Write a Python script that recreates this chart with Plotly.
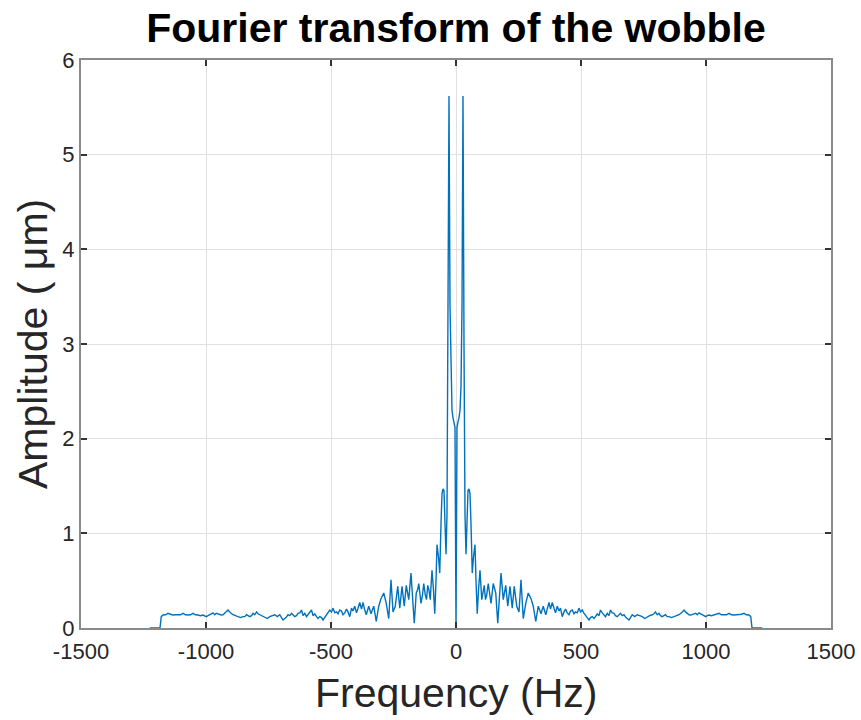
import plotly.graph_objects as go

# Positive-frequency half of the (symmetric) amplitude spectrum
freq_pos = [0, 4, 8, 12, 16, 20, 24, 28, 32, 36, 40, 44, 48, 52, 56, 60, 65, 70, 76, 80,
            85, 90, 96, 103, 108, 113, 118, 123, 129, 134, 140, 149, 154, 159, 167, 174,
            180, 189, 194, 199, 207, 216, 225, 233, 243, 252, 260, 269, 279, 289, 300,
            309, 319, 329, 340, 349, 359, 366, 372, 378, 385, 393, 398, 405, 412, 418,
            425, 432, 438, 445, 452, 458, 465, 472, 478, 485, 492, 498, 505, 511, 518,
            525, 532, 538, 545, 552, 558, 565, 572, 578, 585, 592, 598, 605, 612, 618,
            625, 632, 638, 645, 652, 658, 665, 672, 680, 692, 698, 705, 715, 725, 735,
            745, 755, 765, 775, 785, 792, 798, 805, 812, 818, 825, 832, 838, 845, 852,
            862, 872, 882, 892, 902, 912, 918, 925, 932, 939, 946, 952, 959, 965, 972,
            979, 985, 992, 999, 1005, 1012, 1022, 1032, 1042, 1052, 1062, 1072, 1082,
            1092, 1102, 1112, 1122, 1132, 1142, 1152, 1162, 1172, 1179, 1184, 1225]
amp_pos = [0.0, 2.12, 2.18, 2.22, 2.3, 2.55, 3.4, 5.62, 3.0, 1.2, 0.78, 1.1, 1.45, 1.47,
           1.42, 1.1, 0.58, 0.75, 0.88, 0.5, 0.15, 0.4, 0.61, 0.3, 0.4, 0.45, 0.3, 0.35,
           0.47, 0.35, 0.26, 0.47, 0.4, 0.37, 0.05, 0.35, 0.58, 0.3, 0.38, 0.45, 0.23,
           0.44, 0.21, 0.44, 0.23, 0.17, 0.51, 0.1, 0.26, 0.37, 0.31, 0.23, 0.07, 0.23,
           0.15, 0.23, 0.14, 0.2, 0.27, 0.2, 0.27, 0.2, 0.16, 0.23, 0.18, 0.21, 0.12,
           0.17, 0.2, 0.16, 0.14, 0.18, 0.19, 0.15, 0.17, 0.16, 0.21, 0.17, 0.19, 0.16,
           0.14, 0.11, 0.085, 0.11, 0.12, 0.1, 0.12, 0.15, 0.13, 0.19, 0.16, 0.14, 0.12,
           0.155, 0.13, 0.19, 0.16, 0.155, 0.13, 0.12, 0.14, 0.155, 0.13, 0.14, 0.11,
           0.085, 0.11, 0.14, 0.12, 0.14, 0.13, 0.12, 0.1, 0.12, 0.13, 0.14, 0.15, 0.17,
           0.14, 0.155, 0.13, 0.12, 0.13, 0.14, 0.12, 0.12, 0.11, 0.12, 0.13, 0.14, 0.16,
           0.19, 0.17, 0.155, 0.14, 0.137, 0.14, 0.15, 0.155, 0.14, 0.16, 0.15, 0.137,
           0.13, 0.12, 0.13, 0.137, 0.13, 0.137, 0.14, 0.155, 0.14, 0.137, 0.14, 0.155,
           0.14, 0.137, 0.14, 0.137, 0.145, 0.155, 0.14, 0.137, 0.12, 0.0, 0.0]

# The magnitude spectrum of a real signal is symmetric about 0 Hz
freq = [-f for f in reversed(freq_pos[1:])] + freq_pos
amp = list(reversed(amp_pos[1:])) + amp_pos

x_ticks = [-1500, -1000, -500, 0, 500, 1000, 1500]
y_ticks = [0, 1, 2, 3, 4, 5, 6]

title_text = "Fourier transform of the wobble"
x_label = "Frequency (Hz)"
y_label = "Amplitude ( μm)"

FONT = "Liberation Sans, Arial, sans-serif"
W, H = 861, 720
# plot box in page pixels: x 81..831, y 60..628
L, T = 81, 60
R = W - 831
B = H - 628
PW, PH = W - L - R, H - T - B

fig = go.Figure()
fig.add_trace(go.Scatter(x=freq, y=amp, mode="lines",
                         line=dict(color="#0072BD", width=1.4),
                         hoverinfo="skip", showlegend=False))

axis_common = dict(showline=True, linecolor="#8a8a8a", linewidth=2, mirror="ticks",
                   ticks="inside", ticklen=6, tickwidth=1.5, tickcolor="#333333",
                   showgrid=True, gridcolor="#e0e0e0", gridwidth=1, zeroline=False,
                   automargin=False, ticklabeloverflow="allow",
                   tickfont=dict(family=FONT, size=22, color="#262626"))

fig.update_xaxes(range=[-1500, 1500], tickvals=x_ticks, ticktext=[str(v) for v in x_ticks],
                 ticklabelstandoff=3, **axis_common)
fig.update_yaxes(range=[0, 6], tickvals=y_ticks, ticktext=[str(v) for v in y_ticks],
                 **axis_common)

fig.update_layout(
    width=W, height=H,
    margin=dict(l=L, r=R, t=T, b=B, pad=0, autoexpand=False),
    paper_bgcolor="white", plot_bgcolor="white",
    title=dict(text="<b>" + title_text + "</b>", x=(L + PW / 2) / W, xanchor="center",
               y=1 - 28 / H, yanchor="middle", yref="container",
               font=dict(family=FONT, size=41, color="black")),
    annotations=[
        dict(text=x_label, xref="paper", yref="paper", x=0.5,
             y=-(693 - (H - B)) / PH,
             xanchor="center", yanchor="middle", showarrow=False,
             font=dict(family=FONT, size=41, color="#262626")),
        dict(text=y_label, xref="paper", yref="paper", x=-(L - 33) / PW, y=0.5,
             xanchor="center", yanchor="middle", showarrow=False, textangle=-90,
             font=dict(family=FONT, size=41, color="#262626")),
    ],
)

# remove the browser's default 8px page margin so the figure sits at the window origin
fig.write_html("out.html", config={"displayModeBar": False},
               post_script="document.body.style.margin='0';")
